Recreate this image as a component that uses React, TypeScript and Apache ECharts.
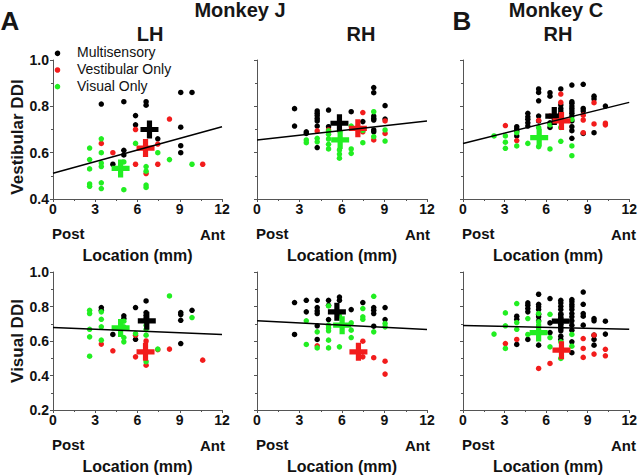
import React, { useEffect, useRef } from "react";
import * as echarts from "echarts";

// ---------- DATA (x = location in mm, y = DDI) ----------
// Monkey J, LH, Vestibular DDI
const jlhVestMulti = [[3.43,0.81],[5.03,0.82],[6.61,0.82],[6.61,0.805],[5.86,0.76],[5.86,0.72],[9.07,0.86],[9.87,0.86],[9.07,0.71],[9.07,0.63],[9.07,0.60],[7.44,0.66],[5.03,0.61],[5.03,0.59],[4.25,0.55]];
const jlhVestVest = [[5.86,0.70],[8.27,0.745],[3.43,0.64],[4.25,0.60],[5.86,0.55],[7.44,0.55],[6.61,0.51],[10.63,0.55],[7.44,0.637]];
const jlhVestVis = [[3.43,0.66],[2.6,0.62],[2.6,0.57],[2.6,0.53],[2.6,0.465],[2.6,0.455],[3.43,0.60],[3.43,0.555],[3.43,0.54],[3.43,0.47],[3.43,0.445],[5.86,0.64],[5.03,0.44],[5.03,0.56],[6.61,0.54],[6.61,0.52],[6.61,0.46],[6.61,0.45],[7.44,0.60],[8.27,0.57],[9.87,0.55]];
const jlhVestMeans = [[6.85,0.70],[6.57,0.62],[4.8,0.532]]; // multi, vest, vis
const jlhVestFit = [0.511, 0.712]; // fit at x=0 and x=12

// Monkey J, RH, Vestibular DDI
const jrhVestMulti = [[2.65,0.79],[2.65,0.715],[3.48,0.69],[3.48,0.683],[4.25,0.78],[4.25,0.77],[4.25,0.76],[4.25,0.748],[4.25,0.737],[4.25,0.715],[4.25,0.622],[5.05,0.784],[5.05,0.712],[6.65,0.777],[8.24,0.881],[8.24,0.859],[8.24,0.758],[8.24,0.748],[8.24,0.741],[8.24,0.698],[8.24,0.69],[9.04,0.803],[9.04,0.745],[7.47,0.734]];
const jrhVestVest = [[4.25,0.694],[5.05,0.698],[7.47,0.773],[8.24,0.655],[9.04,0.737],[9.04,0.683],[7.47,0.69]];
const jrhVestVis = [[3.48,0.655],[3.48,0.643],[4.25,0.662],[4.25,0.647],[5.05,0.694],[5.05,0.679],[5.05,0.659],[5.05,0.636],[5.05,0.616],[5.82,0.612],[5.82,0.594],[5.82,0.576],[6.65,0.715],[6.65,0.616],[6.65,0.597],[7.47,0.696],[7.47,0.643],[8.24,0.777],[8.24,0.669],[9.04,0.698],[9.04,0.65]];
const jrhVestMeans = [[5.82,0.727],[7.12,0.705],[5.87,0.655]];
const jrhVestFit = [0.655, 0.737];

// Monkey C, RH, Vestibular DDI
const crhVestMulti = [[3.88,0.712],[3.88,0.702],[3.88,0.694],[3.88,0.672],[4.68,0.77],[4.68,0.755],[4.68,0.744],[4.68,0.729],[4.68,0.715],[5.46,0.875],[5.46,0.86],[5.46,0.824],[5.46,0.758],[5.46,0.737],[6.28,0.859],[6.28,0.844],[6.28,0.729],[6.28,0.709],[7.06,0.875],[7.06,0.806],[7.06,0.791],[7.06,0.78],[7.06,0.77],[7.06,0.758],[7.86,0.892],[7.86,0.82],[7.86,0.813],[7.86,0.801],[7.86,0.791],[7.86,0.78],[7.86,0.77],[7.86,0.758],[7.86,0.737],[7.86,0.712],[7.86,0.695],[7.86,0.662],[8.68,0.895],[8.68,0.791],[8.68,0.78],[8.68,0.683],[9.46,0.844],[9.46,0.832],[9.46,0.686],[10.28,0.801]];
const crhVestVest = [[3.06,0.717],[3.88,0.652],[5.46,0.739],[6.28,0.758],[7.06,0.853],[7.06,0.817],[8.68,0.762],[8.68,0.741],[8.68,0.686],[9.46,0.816],[9.46,0.724],[10.28,0.727],[10.28,0.72]];
const crhVestVis = [[2.24,0.672],[3.06,0.672],[3.06,0.645],[3.06,0.619],[3.88,0.686],[3.88,0.629],[4.68,0.64],[5.46,0.709],[5.46,0.626],[6.28,0.72],[6.28,0.616],[7.06,0.709],[7.06,0.649],[7.86,0.744],[7.86,0.629],[7.86,0.587]];
const crhVestMeans = [[6.59,0.758],[7.11,0.737],[5.5,0.665]];
const crhVestFit = [0.64, 0.817];

// Monkey J, LH, Visual DDI
const jlhVisMulti = [[3.43,0.794],[3.43,0.778],[5.03,0.746],[5.03,0.73],[4.25,0.638],[5.86,0.794],[5.86,0.61],[6.61,0.832],[6.61,0.765],[6.61,0.749],[6.61,0.734],[6.61,0.72],[9.07,0.765],[9.07,0.753],[9.07,0.72],[9.07,0.585],[9.87,0.778]];
const jlhVisVest = [[3.43,0.582],[4.25,0.543],[5.86,0.508],[6.61,0.46],[6.61,0.60],[7.44,0.55],[8.27,0.553],[10.63,0.489],[5.86,0.634]];
const jlhVisVis = [[2.6,0.778],[2.6,0.759],[2.6,0.668],[2.6,0.624],[2.6,0.512],[3.43,0.769],[3.43,0.726],[3.43,0.682],[3.43,0.605],[5.03,0.715],[5.03,0.682],[5.03,0.62],[5.03,0.595],[5.86,0.643],[6.61,0.691],[6.61,0.668],[6.61,0.634],[6.61,0.48],[7.44,0.553],[8.27,0.861],[9.87,0.736]];
const jlhVisMeans = [[6.66,0.717],[6.57,0.537],[4.8,0.676]];
const jlhVisFit = [0.678, 0.638];

// Monkey J, RH, Visual DDI
const jrhVisMulti = [[2.65,0.823],[2.65,0.638],[3.48,0.836],[3.48,0.769],[4.25,0.836],[4.25,0.794],[4.25,0.774],[4.25,0.759],[4.25,0.688],[4.25,0.609],[5.05,0.836],[5.05,0.807],[5.05,0.724],[5.82,0.855],[5.82,0.836],[6.65,0.782],[7.47,0.823],[8.24,0.794],[8.24,0.778],[8.24,0.759],[8.24,0.686],[9.04,0.794],[9.04,0.724]];
const jrhVisVest = [[4.25,0.572],[7.47,0.599],[7.47,0.508],[8.24,0.503],[9.04,0.483],[9.04,0.408]];
const jrhVisVis = [[3.48,0.717],[3.48,0.58],[4.25,0.653],[4.25,0.56],[5.05,0.803],[5.05,0.692],[5.05,0.676],[5.05,0.659],[5.05,0.605],[5.05,0.56],[5.82,0.746],[5.82,0.566],[6.65,0.705],[6.65,0.663],[6.65,0.62],[7.47,0.788],[7.47,0.74],[7.47,0.726],[8.24,0.859],[8.24,0.653],[9.04,0.701],[9.04,0.682]];
const jrhVisMeans = [[5.64,0.769],[7.16,0.537],[6.01,0.692]];
const jrhVisFit = [0.717, 0.667];

// Monkey C, RH, Visual DDI
const crhVisMulti = [[3.88,0.744],[3.88,0.726],[3.88,0.58],[4.68,0.821],[4.68,0.807],[4.68,0.788],[4.68,0.769],[4.68,0.609],[5.46,0.871],[5.46,0.813],[5.46,0.798],[5.46,0.782],[5.46,0.755],[5.46,0.74],[5.46,0.717],[5.46,0.576],[6.28,0.846],[6.28,0.705],[6.28,0.649],[7.06,0.836],[7.06,0.821],[7.06,0.801],[7.06,0.782],[7.06,0.755],[7.06,0.734],[7.06,0.697],[7.06,0.677],[7.06,0.659],[7.06,0.628],[7.06,0.609],[7.86,0.84],[7.86,0.827],[7.86,0.811],[7.86,0.798],[7.86,0.782],[7.86,0.759],[7.86,0.74],[7.86,0.717],[7.86,0.692],[7.86,0.663],[7.86,0.595],[7.86,0.532],[8.68,0.884],[8.68,0.813],[8.68,0.759],[8.68,0.744],[8.68,0.692],[9.46,0.73],[9.46,0.717],[9.46,0.634],[9.46,0.609],[9.46,0.576],[10.28,0.715],[10.28,0.64]];
const crhVisVest = [[3.06,0.585],[3.88,0.609],[5.46,0.441],[6.28,0.47],[8.68,0.614],[8.68,0.557],[8.68,0.505],[9.46,0.634],[9.46,0.524],[10.28,0.552],[10.28,0.514]];
const crhVisVis = [[2.24,0.64],[3.06,0.763],[3.06,0.688],[3.06,0.557],[3.88,0.817],[3.88,0.707],[3.88,0.668],[4.68,0.73],[4.68,0.638],[5.46,0.759],[5.46,0.711],[6.28,0.755],[6.28,0.62],[6.28,0.566],[7.06,0.595],[7.06,0.499],[7.86,0.638],[7.86,0.57]];
const crhVisMeans = [[7.06,0.715],[7.11,0.547],[5.46,0.649]];
const crhVisFit = [0.69, 0.668];

const xTicks = [0, 3, 6, 9, 12];
const vestYTicks = [0.4, 0.6, 0.8, 1.0];
const visYTicks = [0.2, 0.4, 0.6, 0.8, 1.0];
const groupNames = ["Multisensory", "Vestibular Only", "Visual Only"];
const groupColors = ["#000000", "#f21c1c", "#22ee22"];

// ---------- LAYOUT ----------
const FONT = "'Liberation Sans', Arial, Helvetica, sans-serif";
const AXIS_COLOR = "#555";
const colLefts = [53, 257, 463];
const colWidths = [169, 170, 170];
const rowTops = [60, 272];
const rowHeights = [139, 138];

const panels = [
  { multi: jlhVestMulti, vest: jlhVestVest, vis: jlhVestVis, means: jlhVestMeans, fit: jlhVestFit, yt: vestYTicks },
  { multi: jrhVestMulti, vest: jrhVestVest, vis: jrhVestVis, means: jrhVestMeans, fit: jrhVestFit, yt: vestYTicks },
  { multi: crhVestMulti, vest: crhVestVest, vis: crhVestVis, means: crhVestMeans, fit: crhVestFit, yt: vestYTicks },
  { multi: jlhVisMulti, vest: jlhVisVest, vis: jlhVisVis, means: jlhVisMeans, fit: jlhVisFit, yt: visYTicks },
  { multi: jrhVisMulti, vest: jrhVisVest, vis: jrhVisVis, means: jrhVisMeans, fit: jrhVisFit, yt: visYTicks },
  { multi: crhVisMulti, vest: crhVisVest, vis: crhVisVis, means: crhVisMeans, fit: crhVisFit, yt: visYTicks },
];

const CROSS = "path://M-2.6,-9H2.6V-2.6H9V2.6H2.6V9H-2.6V2.6H-9V-2.6H-2.6Z";

function buildOption() {
  const grid: any[] = [];
  const xAxis: any[] = [];
  const yAxis: any[] = [];
  const series: any[] = [];
  const graphic: any[] = [];

  panels.forEach((p, i) => {
    const col = i % 3;
    const row = Math.floor(i / 3);
    const left = colLefts[col];
    const top = rowTops[row];
    const w = colWidths[col];
    const h = rowHeights[row];
    grid.push({ left, top, width: w, height: h, containLabel: false });
    xAxis.push({
      type: "value",
      gridIndex: i,
      min: xTicks[0],
      max: xTicks[xTicks.length - 1],
      interval: xTicks[1] - xTicks[0],
      axisLine: { show: true, lineStyle: { color: AXIS_COLOR, width: 1 } },
      axisTick: { show: true, length: 3, lineStyle: { color: AXIS_COLOR } },
      minorTick: { show: true, splitNumber: 2, length: 2, lineStyle: { color: AXIS_COLOR } },
      splitLine: { show: false },
      axisLabel: { fontFamily: FONT, fontWeight: "bold", fontSize: 14, color: "#111", margin: 3 },
    });
    const yt = p.yt;
    yAxis.push({
      type: "value",
      gridIndex: i,
      min: yt[0],
      max: yt[yt.length - 1],
      interval: 0.2,
      axisLine: { show: true, lineStyle: { color: AXIS_COLOR, width: 1 } },
      axisTick: { show: true, length: 3, lineStyle: { color: AXIS_COLOR } },
      minorTick: { show: true, splitNumber: 2, length: 2, lineStyle: { color: AXIS_COLOR } },
      splitLine: { show: false },
      axisLabel: {
        show: col === 0,
        fontFamily: FONT,
        fontWeight: "bold",
        fontSize: 14,
        color: "#111",
        margin: 4,
        formatter: (v: number) => v.toFixed(1),
      },
    });
    const groups = [p.multi, p.vest, p.vis];
    groups.forEach((d, g) => {
      series.push({
        type: "scatter",
        name: groupNames[g],
        xAxisIndex: i,
        yAxisIndex: i,
        data: d,
        symbol: "circle",
        symbolSize: 5.5,
        itemStyle: { color: groupColors[g], opacity: 1 },
        z: 2 + g,
        silent: true,
      });
    });
    // mean crosses: multi, vis, vest order
    [0, 2, 1].forEach((g, k) => {
      series.push({
        type: "scatter",
        name: groupNames[g] + " mean",
        xAxisIndex: i,
        yAxisIndex: i,
        data: [p.means[g]],
        symbol: CROSS,
        symbolSize: 18,
        itemStyle: { color: groupColors[g], opacity: 1 },
        z: 6 + k,
        silent: true,
      });
    });
    series.push({
      type: "line",
      name: "fit",
      xAxisIndex: i,
      yAxisIndex: i,
      data: [[xTicks[0], p.fit[0]], [xTicks[xTicks.length - 1], p.fit[1]]],
      symbol: "none",
      lineStyle: { color: "#000", width: 1.5 },
      z: 10,
      silent: true,
    });

    // Post / Ant / Location labels
    const axisY = top + h;
    graphic.push({
      type: "text", left: left - 1, top: axisY + 27,
      style: { text: "Post", fontFamily: FONT, fontWeight: "bold", fontSize: 15, fill: "#111" },
    });
    graphic.push({
      type: "text", x: left + w + 3, y: axisY + 35,
      style: { text: "Ant", fontFamily: FONT, fontWeight: "bold", fontSize: 15, fill: "#111", align: "right", verticalAlign: "middle" },
    });
    graphic.push({
      type: "text", x: left + w / 2, y: axisY + 56,
      style: { text: "Location (mm)", fontFamily: FONT, fontWeight: "bold", fontSize: 16, fill: "#111", align: "center", verticalAlign: "middle" },
    });
  });

  const T = (text: string, x: number, y: number, size: number, extra: any = {}) => ({
    type: "text",
    x,
    y,
    ...extra,
    style: { text, fontFamily: FONT, fontWeight: "bold", fontSize: size, fill: "#161616", align: "center", verticalAlign: "middle" },
  });

  graphic.push(T("A", 10, 21, 26));
  graphic.push(T("B", 462, 21, 26));
  graphic.push(T("Monkey J", 240, 10, 20));
  graphic.push(T("Monkey C", 556, 10, 20));
  graphic.push(T("LH", 150, 34, 20));
  graphic.push(T("RH", 361, 34, 20));
  graphic.push(T("RH", 558, 34, 20));
  graphic.push(T("Vestibular DDI", 17, 137, 17, { rotation: Math.PI / 2 }));
  graphic.push(T("Visual DDI", 17, 341, 17, { rotation: Math.PI / 2 }));

  // legend
  const legendY = [53.3, 70, 86.7];
  groupNames.forEach((n, g) => {
    graphic.push({ type: "circle", shape: { cx: 57.5, cy: legendY[g], r: 2.8 }, style: { fill: groupColors[g] } });
    graphic.push({
      type: "text", x: 77, y: legendY[g] - 1,
      style: { text: n, fontFamily: FONT, fontSize: 14, fill: "#111", align: "left", verticalAlign: "middle" },
    });
  });

  return {
    animation: false,
    backgroundColor: "#ffffff",
    grid,
    xAxis,
    yAxis,
    series,
    graphic,
  };
}

export default function App() {
  const ref = useRef<HTMLDivElement>(null);
  useEffect(() => {
    if (!ref.current) return;
    const chart = echarts.init(ref.current, null, { renderer: "svg", width: 640, height: 476 });
    chart.setOption(buildOption() as any);
    return () => chart.dispose();
  }, []);
  return <div ref={ref} style={{ position: "absolute", left: 0, top: 0, width: 640, height: 476 }} />;
}
